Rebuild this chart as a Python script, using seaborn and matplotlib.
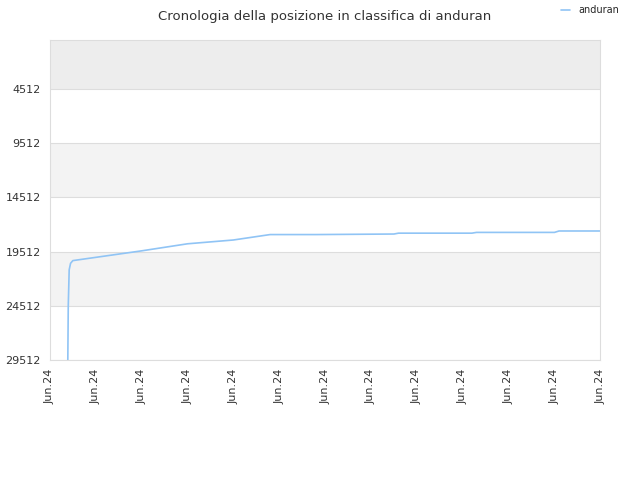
import matplotlib
matplotlib.use("Agg")
import matplotlib.pyplot as plt
import seaborn as sns

# rank history (x in tick-units, 13 ticks all labelled Jun.24)
x_pos = [0.39, 0.40, 0.42, 0.45, 0.50, 1.0, 2.0, 3.0, 4.0, 4.8, 5.8, 7.5, 7.6, 9.2, 9.3, 11.0, 11.1, 12.0]
rank = [29512, 24500, 21200, 20600, 20350, 20050, 19450, 18800, 18450, 17950, 17950, 17900, 17820, 17820, 17750, 17750, 17620, 17620]
tick_labels = ["Jun.24"] * 13
y_ticks = [4512, 9512, 14512, 19512, 24512, 29512]

sns.set_style("white")
fig, ax = plt.subplots(figsize=(6.4, 4.8), dpi=100)
fig.subplots_adjust(left=0.078, right=0.938, top=0.917, bottom=0.25)

# alternating bands
bands = [(0, 4512, "#ededed"), (4512, 9512, "#ffffff"), (9512, 14512, "#f3f3f3"),
         (14512, 19512, "#ffffff"), (19512, 24512, "#f3f3f3"), (24512, 29512, "#ffffff")]
for lo, hi, c in bands:
    ax.axhspan(lo, hi, color=c, zorder=0, lw=0)
for t in y_ticks:
    ax.axhline(t, color="#dddddd", lw=0.8, zorder=1)

sns.lineplot(x=x_pos, y=rank, ax=ax, color="#90c4f5", lw=1.2, label="anduran", zorder=2)

ax.set_xlim(0, 12)
ax.set_ylim(29512, 0)
ax.set_yticks(y_ticks)
ax.set_xticks(range(13))
ax.set_xticklabels(tick_labels, rotation=90)
ax.tick_params(labelsize=8, colors="#333333", length=3)
for s in ax.spines.values():
    s.set_color("#dddddd")

ax.set_title("Cronologia della posizione in classifica di anduran", fontsize=9.5, color="#333333", pad=14)
ax.legend(loc="upper right", bbox_to_anchor=(1.05, 1.135), frameon=False, fontsize=7, handlelength=1)

fig.savefig("out.png")
